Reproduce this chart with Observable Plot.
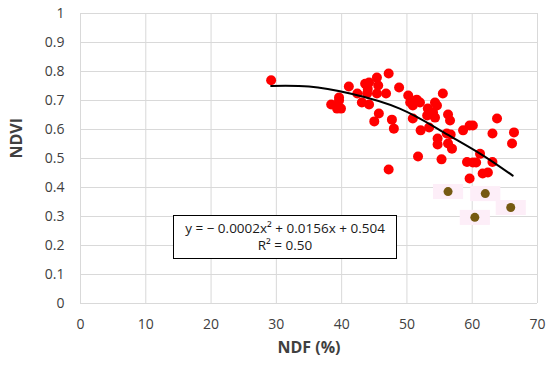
<!DOCTYPE html>
<html>
<head>
<meta charset="utf-8">
<script src="https://cdn.jsdelivr.net/npm/d3@7"></script>
<script src="https://cdn.jsdelivr.net/npm/@observablehq/plot@0.6"></script>
<style>
  html, body { margin: 0; padding: 0; background: #fff; }
  #chart { position: relative; width: 550px; height: 366px; }
  #eq {
    position: absolute; left: 173px; top: 215px; width: 224px; height: 44px;
    border: 1px solid #000; background: #fff; box-sizing: border-box;
    font-family: "Open Sans", sans-serif; font-size: 13.5px; color: #1a1a1a;
    text-align: center; line-height: 17px; padding-top: 4px; white-space: nowrap;
  }
</style>
</head>
<body>
<div id="chart"></div>
<script>
// Red points: NDF (%) and NDVI
const ndfRed = [29.2,38.4,39.6,39.6,39.3,39.9,41.1,42.4,43.6,44.2,44.0,45.4,45.6,45.4,43.9,46.8,47.2,48.8,50.2,43.1,44.2,45.7,45.0,47.7,48.0,47.2,50.5,50.9,51.5,52.0,50.9,52.1,53.2,53.1,54.0,54.3,54.6,54.3,53.4,55.5,56.3,56.6,56.1,56.7,54.7,54.7,56.3,56.9,58.6,59.6,60.1,63.8,63.1,66.4,66.1,51.7,55.3,59.2,60.1,60.6,61.2,63.1,61.6,62.4,59.6];
const ndviRed = [0.770,0.686,0.710,0.700,0.672,0.672,0.748,0.724,0.758,0.762,0.740,0.779,0.752,0.724,0.724,0.724,0.793,0.745,0.717,0.693,0.686,0.655,0.628,0.634,0.603,0.462,0.693,0.683,0.703,0.693,0.638,0.597,0.672,0.648,0.659,0.693,0.683,0.641,0.607,0.724,0.652,0.631,0.586,0.583,0.569,0.548,0.552,0.534,0.597,0.614,0.614,0.638,0.586,0.590,0.552,0.507,0.497,0.488,0.486,0.486,0.516,0.488,0.448,0.452,0.431];
// Brown points
const ndfBrown = [56.3,62.0,65.9,60.4];
const ndviBrown = [0.386,0.379,0.331,0.297];
// Trend line
const trendNdf = [29.2,35.0,41.3,48.9,55.5,61.2,66.2];
const trendNdvi = [0.750,0.748,0.724,0.672,0.592,0.517,0.441];
// Ticks
const xTicks = [0,10,20,30,40,50,60,70];
const yTicks = [0,0.1,0.2,0.3,0.4,0.5,0.6,0.7,0.8,0.9,1];

const red = ndfRed.map((x,i) => ({x, y: ndviRed[i]}));
const brown = ndfBrown.map((x,i) => ({x, y: ndviBrown[i]}));
const trend = trendNdf.map((x,i) => ({x, y: trendNdvi[i]}));

// wide faint halo symbol (2:1 rectangle)
const wideRect = {draw(ctx, size) { const s = Math.sqrt(size); ctx.rect(-s, -s / 2, 2 * s, s); }};

const chart = Plot.plot({
  width: 550, height: 366,
  marginLeft: 80, marginRight: 13, marginTop: 13, marginBottom: 63,
  style: {fontFamily: "'Open Sans', sans-serif", fontSize: "14px", color: "#404040", background: "#fff"},
  x: {domain: [0, 70]},
  y: {domain: [0, 1]},
  marks: [
    Plot.gridX(xTicks, {stroke: "#d9d9d9", strokeOpacity: 1}),
    Plot.gridY(yTicks, {stroke: "#d9d9d9", strokeOpacity: 1}),
    Plot.axisX(xTicks, {tickSize: 0, tickPadding: 16, label: null, fill: "#404040"}),
    Plot.axisY(yTicks, {tickSize: 0, tickPadding: 16, label: null, tickFormat: d => String(d), fill: "#404040"}),
    Plot.text(["NDVI"], {frameAnchor: "left", rotate: -90, dx: -64, fontWeight: "bold", fontSize: 16, fill: "#404040"}),
    Plot.text(["NDF (%)"], {frameAnchor: "bottom", dy: 49, fontWeight: "bold", fontSize: 16, fill: "#404040"}),
    Plot.dot(brown, {x: "x", y: "y", symbol: wideRect, r: 8.5, fill: "#fdeef8", stroke: "none"}),
    Plot.dot(red, {x: "x", y: "y", r: 5, fill: "#ff0000", stroke: "none"}),
    Plot.dot(brown, {x: "x", y: "y", r: 4.5, fill: "#765a12", stroke: "none"}),
    Plot.line(trend, {x: "x", y: "y", curve: "natural", stroke: "#000", strokeWidth: 2})
  ]
});
const host = document.getElementById("chart");
host.appendChild(chart);
const eq = document.createElement("div");
eq.id = "eq";
eq.innerHTML = "y = − 0.0002x² + 0.0156x + 0.504<br>R² = 0.50";
host.appendChild(eq);
</script>
</body>
</html>
